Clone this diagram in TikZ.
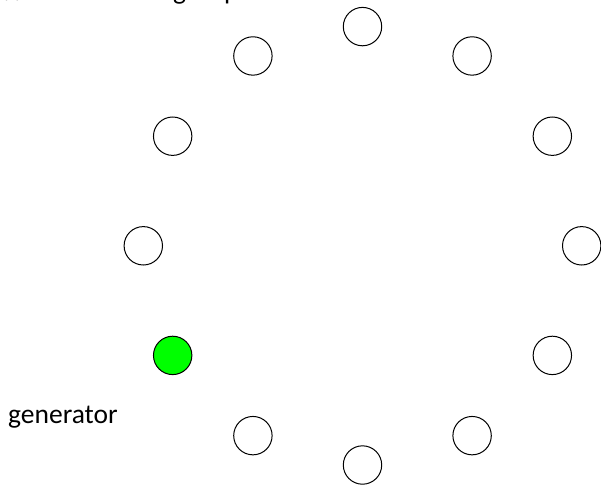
\documentclass[tikz,border=0pt]{standalone}
\usepackage{fontspec}
\setmainfont{Carlito}
\begin{document}
\begin{tikzpicture}[x=1pt,y=-1pt,
  vertex/.style={circle, draw=black, line width=1pt, minimum size=38.4pt, inner sep=0pt, fill=white},
  gen/.style={vertex, fill=green},
  lbl/.style={anchor=base west, inner sep=0pt, font=\fontsize{27.5}{32}\selectfont}]
\useasboundingbox (0,0) rectangle (601,484);
\begin{scope}
  \clip (0,0) rectangle (601,484);
  \node[lbl] (title) at (6,0) {// the rotation group};
\end{scope}
\foreach \i in {0,...,11} {
  \pgfmathsetmacro{\ang}{90+30*\i}
  \ifnum\i=4
    \node[gen] (v\i) at ({362.5+219.2*cos(\ang)},{245.8-219.2*sin(\ang)}) {};
  \else
    \node[vertex] (v\i) at ({362.5+219.2*cos(\ang)},{245.8-219.2*sin(\ang)}) {};
  \fi
}
\node[lbl] (genlabel) at (8,423) {generator};
\end{tikzpicture}
\end{document}
